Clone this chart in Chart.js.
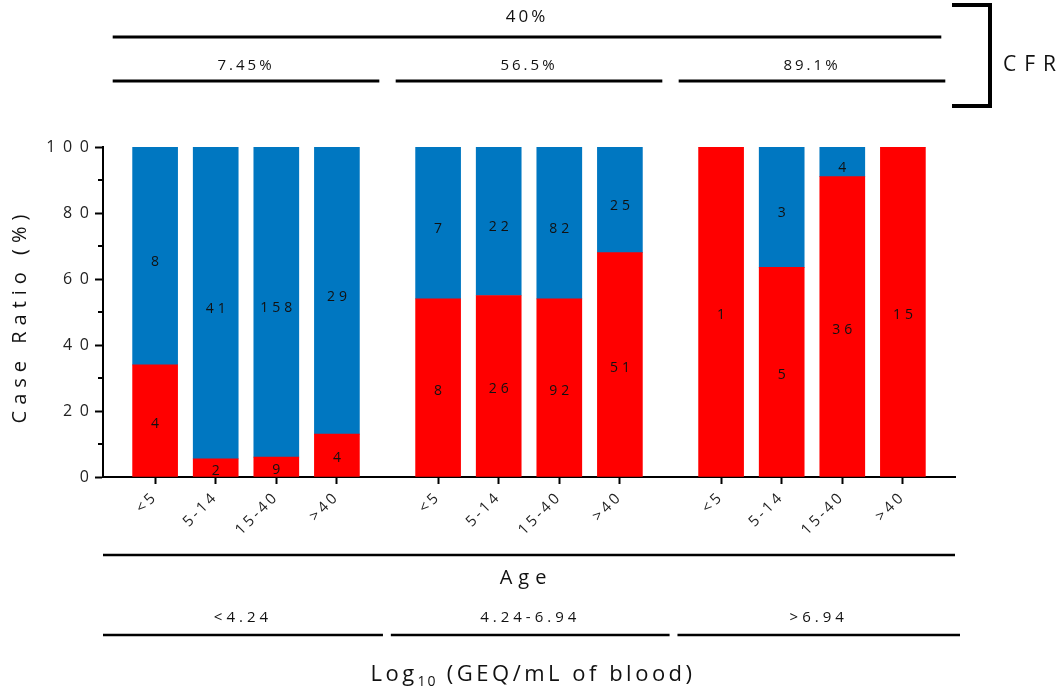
<!DOCTYPE html>
<html>
<head>
<meta charset="utf-8">
<script src="https://cdn.jsdelivr.net/npm/chart.js@4/dist/chart.umd.min.js"></script>
<style>
  html, body { margin: 0; padding: 0; background: #fff; }
  #wrap { width: 1063px; height: 690px; }
</style>
</head>
<body>
<div id="wrap"><canvas id="myChart"></canvas></div>
<script>
// data
var ageGroups = ['<5', '5-14', '15-40', '>40'];
var loadGroups = ['<4.24', '4.24-6.94', '>6.94'];
var cfrGroups = ['7.45%', '56.5%', '89.1%'];
var cfrTotal = '40%';

// percent of cases per bar (red = fatal, blue = survived)
var redPct  = [34, 5.5, 6, 13,   54, 55, 54, 68,   100, 63.5, 91, 100];
var bluePct = [66, 94.5, 94, 87,  46, 45, 46, 32,   0, 36.5, 9, 0];
// case counts written inside the bars
var redCount  = [4, 2, 9, 4,    8, 26, 92, 51,   1, 5, 36, 15];
var blueCount = [8, 41, 158, 29, 7, 22, 82, 25,  null, 3, 4, null];

var RED = '#ff0000';
var BLUE = '#0077c1';
var FONT = "'Open Sans', 'DejaVu Sans', sans-serif";

// bars sit at 0..3 inside a group, groups a bit further apart
var groupStep = 4.67;
var xPos = redPct.map(function (v, i) { return Math.floor(i / 4) * groupStep + (i % 4); });

function pts(values) {
  return values.map(function (v, i) { return { x: xPos[i], y: v }; });
}

// spacing between letters, like the original figure
var spacingPlugin = {
  id: 'spacing',
  beforeInit: function (chart) { chart.ctx.letterSpacing = '3px'; },
  beforeLayout: function (chart) { chart.ctx.letterSpacing = '3px'; },
  beforeDraw: function (chart) { chart.ctx.letterSpacing = '3px'; }
};

// counts inside each bar segment
var countsPlugin = {
  id: 'counts',
  afterDatasetsDraw: function (chart) {
    var ctx = chart.ctx;
    ctx.save();
    ctx.font = '14px ' + FONT;
    ctx.letterSpacing = '4px';
    ctx.fillStyle = '#111';
    ctx.textAlign = 'center';
    ctx.textBaseline = 'middle';
    [redCount, blueCount].forEach(function (counts, d) {
      var meta = chart.getDatasetMeta(d);
      meta.data.forEach(function (bar, i) {
        if (counts[i] == null) return;
        var cy = (bar.y + bar.base) / 2 + (d === 1 ? 6 : 3);
        ctx.fillText(String(counts[i]), bar.x + 2, cy);
      });
    });
    ctx.restore();
  }
};

// minor y ticks, y title, group brackets, CFR labels and x titles
var annotPlugin = {
  id: 'annot',
  afterDraw: function (chart) {
    var ctx = chart.ctx;
    var xs = chart.scales.x, ys = chart.scales.y;
    var area = chart.chartArea;
    ctx.save();
    ctx.strokeStyle = '#000';
    ctx.fillStyle = '#111';

    // minor ticks
    ctx.lineWidth = 2;
    [10, 30, 50, 70, 90].forEach(function (v) {
      var py = Math.round(ys.getPixelForValue(v));
      ctx.beginPath();
      ctx.moveTo(area.left - 5, py);
      ctx.lineTo(area.left, py);
      ctx.stroke();
    });

    function hline(x1, x2, y, w) {
      ctx.lineWidth = w || 3;
      ctx.beginPath();
      ctx.moveTo(x1, y);
      ctx.lineTo(x2, y);
      ctx.stroke();
    }
    function text(str, x, y, size, spacing) {
      ctx.font = size + 'px ' + FONT;
      ctx.letterSpacing = spacing;
      ctx.textAlign = 'center';
      ctx.textBaseline = 'middle';
      ctx.fillText(str, x, y);
    }

    // y title
    ctx.save();
    ctx.translate(20, (area.top + area.bottom) / 2 + 4);
    ctx.rotate(-Math.PI / 2);
    text('Case Ratio (%)', 0, 0, 20, '6px');
    ctx.restore();

    // CFR rows on top
    var gLeft = [], gRight = [];
    for (var g = 0; g < 3; g++) {
      gLeft.push(xs.getPixelForValue(g * groupStep - 0.7));
      gRight.push(xs.getPixelForValue(g * groupStep + 3.7));
    }
    hline(gLeft[0], gRight[2] - 4, 37);
    text(cfrTotal, (gLeft[0] + gRight[2]) / 2 - 2, 17, 17, '3px');
    for (g = 0; g < 3; g++) {
      hline(gLeft[g], gRight[g], 81);
      text(cfrGroups[g], (gLeft[g] + gRight[g]) / 2, 66, 15, '3px');
    }
    // bracket
    ctx.lineWidth = 4;
    ctx.beginPath();
    ctx.moveTo(952, 5);
    ctx.lineTo(990, 5);
    ctx.lineTo(990, 106);
    ctx.lineTo(952, 106);
    ctx.stroke();
    ctx.textAlign = 'left';
    ctx.font = '21px ' + FONT;
    ctx.letterSpacing = '8px';
    ctx.textBaseline = 'middle';
    ctx.fillText('CFR', 1003, 65);

    // Age line
    hline(area.left, area.right, 555, 2.5);
    text('Age', (area.left + area.right) / 2 - 3, 578, 20, '6px');

    // viral load rows
    var bl = [area.left, xs.getPixelForValue(groupStep - 0.78), xs.getPixelForValue(2 * groupStep - 0.72)];
    var br = [xs.getPixelForValue(3.76), xs.getPixelForValue(groupStep + 3.82), area.right + 5];
    for (g = 0; g < 3; g++) {
      hline(bl[g], br[g], 635, 2.5);
      text(loadGroups[g], (bl[g] + br[g]) / 2, 618, 15, '4px');
    }

    // Log10 title with subscript
    ctx.textAlign = 'left';
    ctx.textBaseline = 'alphabetic';
    var p1 = 'Log', p2 = '10', p3 = ' (GEQ/mL of blood)';
    ctx.font = '22px ' + FONT;
    ctx.letterSpacing = '3.5px';
    var w1 = ctx.measureText(p1).width;
    var w3 = ctx.measureText(p3).width;
    ctx.font = '14px ' + FONT;
    ctx.letterSpacing = '2px';
    var w2 = ctx.measureText(p2).width;
    var sx = 533 - (w1 + w2 + w3) / 2;
    ctx.font = '22px ' + FONT;
    ctx.letterSpacing = '3.5px';
    ctx.fillText(p1, sx, 681);
    ctx.font = '14px ' + FONT;
    ctx.letterSpacing = '2px';
    ctx.fillText(p2, sx + w1, 686);
    ctx.font = '22px ' + FONT;
    ctx.letterSpacing = '3.5px';
    ctx.fillText(p3, sx + w1 + w2, 681);

    ctx.restore();
  }
};

new Chart('myChart', {
  type: 'bar',
  data: {
    datasets: [
      { label: 'Fatal', data: pts(redPct), backgroundColor: RED, barThickness: 45 },
      { label: 'Survived', data: pts(bluePct), backgroundColor: BLUE, barThickness: 45 }
    ]
  },
  options: {
    responsive: true,
    maintainAspectRatio: false,
    animation: false,
    layout: { padding: { top: 147, right: 108, left: 0, bottom: 0 } },
    plugins: {
      legend: { display: false },
      tooltip: { enabled: false }
    },
    scales: {
      x: {
        type: 'linear',
        stacked: true,
        offset: false,
        min: -0.86,
        max: 2 * groupStep + 3 + 0.86,
        afterBuildTicks: function (axis) {
          axis.ticks = xPos.map(function (v) { return { value: v }; });
        },
        afterFit: function (scale) { scale.height = 213; },
        ticks: {
          autoSkip: false,
          minRotation: 45,
          maxRotation: 45,
          padding: 4,
          color: '#222',
          font: { family: FONT, size: 15 },
          callback: function (value, index) { return ageGroups[index % 4]; }
        },
        grid: { offset: false, drawOnChartArea: false, drawTicks: true, tickLength: 7, tickWidth: 2, tickColor: '#000' },
        border: { display: true, color: '#000', width: 2 }
      },
      y: {
        stacked: true,
        min: 0,
        max: 100,
        afterFit: function (scale) { scale.width = 103; },
        ticks: {
          stepSize: 20,
          padding: 3,
          color: '#222',
          font: { family: FONT, size: 16 },
          callback: function (value) { return String(value).split('').join('\u200A'); }
        },
        grid: { drawOnChartArea: false, drawTicks: true, tickLength: 8, tickWidth: 2, tickColor: '#000' },
        border: { display: true, color: '#000', width: 2 }
      }
    }
  },
  plugins: [spacingPlugin, countsPlugin, annotPlugin]
});
</script>
</body>
</html>
